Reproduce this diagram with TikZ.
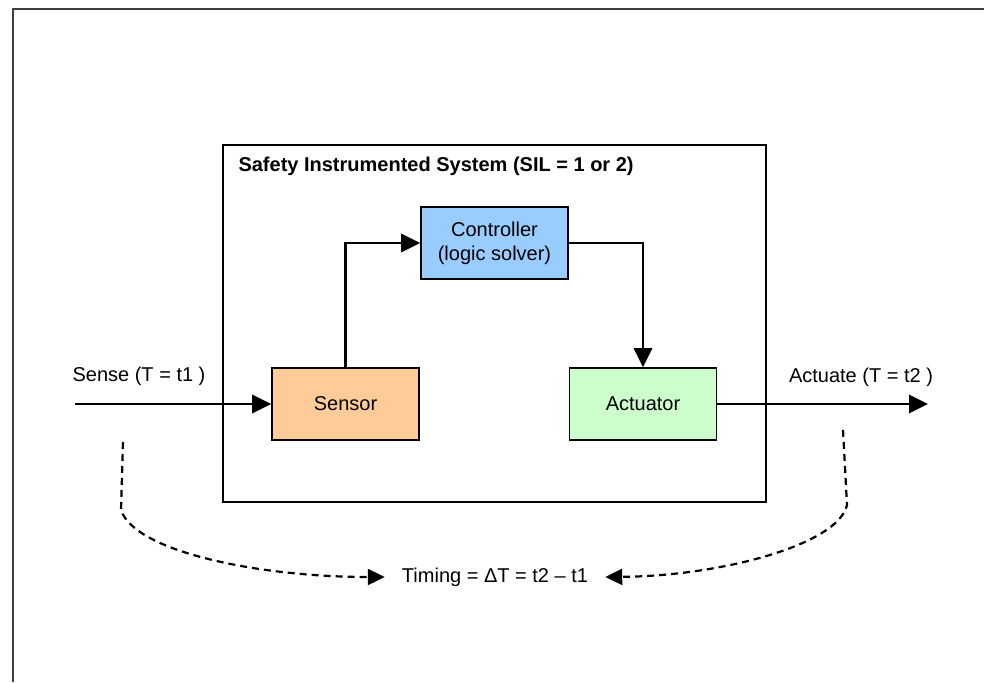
\documentclass[tikz,border=0pt]{standalone}
\usepackage{fontspec}
\setmainfont{Liberation Sans}
\usetikzlibrary{arrows.meta,positioning}

\begin{document}
\begin{tikzpicture}[
  x=1pt, y=-1pt,
  every node/.style={font=\fontsize{20}{24}\selectfont},
  unit/.style={rectangle, draw, line width=1.6pt, minimum width=147,
               minimum height=72, align=center},
  frame/.style={rectangle, draw, line width=2.3pt},
  arr/.style={-{Triangle[length=19pt,width=18pt]}, line width=2.9pt},
  darr/.style={-{Triangle[length=17pt,width=16pt]}, line width=2.2pt,
               dash pattern=on 7pt off 5pt},
]
  \useasboundingbox (0,0) rectangle (984,682);
  % outer page frame
  \draw[line width=1.8pt, black!75] (13,682) -- (13,9) -- (984,9);

  \node[frame, minimum width=543, minimum height=357] (sis) at (494.5,323.5) {};
  \node[anchor=west, font=\fontsize{20}{24}\selectfont\bfseries] (title) at (235,166)
    {Safety Instrumented System (SIL = 1 or 2)};

  \node[unit, fill={rgb,255:red,255;green,204;blue,153}] (sensor) at (345.5,404) {Sensor};
  \node[unit, fill={rgb,255:red,153;green,204;blue,255}] (controller) at (494.5,243)
    {Controller\\(logic solver)};
  \node[unit, fill={rgb,255:red,204;green,255;blue,204}] (actuator) at (643,404) {Actuator};

  \coordinate (in) at (75,404);
  \coordinate (out) at (928,404);
  \node (sense) at (139,376) {Sense (T = t1 )};
  \node (actuate) at (861,377) {Actuate (T = t2 )};
  \node[inner xsep=17pt] (timing) at (495,577) {Timing = ΔT = t2 – t1};

  \draw[arr] (in) -- (sensor);
  \draw[arr] (sensor.north) |- (controller.west);
  \draw[arr] (controller.east) -| (actuator.north);
  \draw[arr] (actuator) -- (out);

  \coordinate (t1) at (123,442);
  \coordinate (t2) at (843,430);
  \draw[darr] (t1) -- (121,510) .. controls (135,552) and (260,577) .. (timing.west);
  \draw[darr] (t2) -- (847,505) .. controls (838,545) and (720,576) .. (timing.east);
\end{tikzpicture}
\end{document}
